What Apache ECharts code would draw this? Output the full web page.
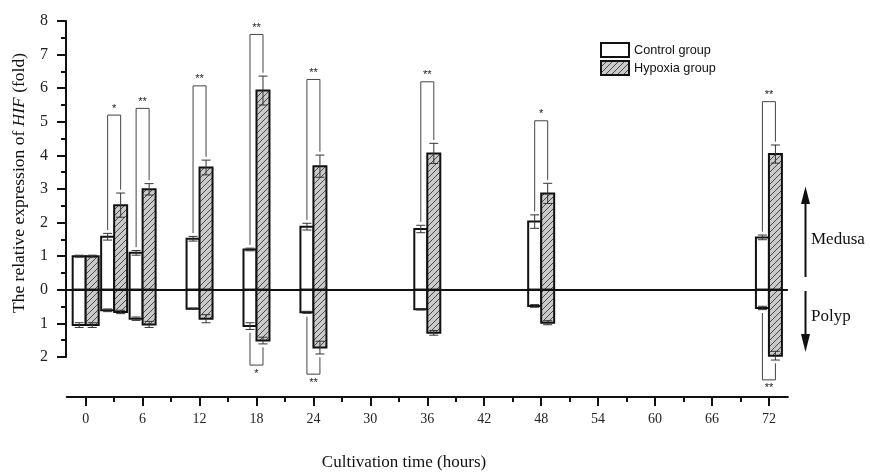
<!DOCTYPE html>
<html><head><meta charset="utf-8">
<script src="https://cdn.jsdelivr.net/npm/echarts@6/dist/echarts.min.js"></script>
<style>html,body{margin:0;padding:0;background:#fff}#c{width:870px;height:473px}</style>
</head><body><div id="c"></div>
<script>
// ---------- data ----------
const times = [0, 3, 6, 12, 18, 24, 36, 48, 72];
const controlMedusa    = [1.00, 1.58, 1.10, 1.52, 1.20, 1.88, 1.81, 2.03, 1.56];
const controlMedusaErr = [0.03, 0.10, 0.07, 0.07, 0.04, 0.10, 0.11, 0.20, 0.07];
const hypoxiaMedusa    = [1.00, 2.52, 2.99, 3.64, 5.93, 3.68, 4.06, 2.87, 4.04];
const hypoxiaMedusaErr = [0.03, 0.36, 0.17, 0.22, 0.43, 0.33, 0.30, 0.30, 0.27];
const controlPolyp     = [-1.05, -0.61, -0.86, -0.56, -1.08, -0.67, -0.58, -0.48, -0.54];
const controlPolypErr  = [0.07, 0.04, 0.05, 0.02, 0.10, 0.03, 0.02, 0.04, 0.05];
const hypoxiaPolyp     = [-1.05, -0.66, -1.03, -0.86, -1.51, -1.72, -1.28, -0.98, -1.96];
const hypoxiaPolypErr  = [0.07, 0.05, 0.09, 0.12, 0.10, 0.19, 0.07, 0.06, 0.13];

const sigTopTimes  = [3, 6, 12, 18, 24, 36, 48, 72];
const sigTopLevel  = [5.2, 5.4, 6.07, 7.6, 6.26, 6.19, 5.03, 5.6];
const sigTopMark   = ['*', '**', '**', '**', '**', '**', '*', '**'];
const sigBottomTimes = [18, 24, 72];
const sigBottomLevel = [-2.24, -2.51, -2.68];
const sigBottomMark  = ['*', '**', '**'];

const xMajorTicks = [0, 6, 12, 18, 24, 30, 36, 42, 48, 54, 60, 66, 72];
const xMinorTicks = [3, 9, 15, 21, 27, 33, 39, 45, 51, 57, 63, 69];
const seriesNames = ['Control group', 'Hypoxia group'];

// ---------- styles ----------
const SERIF = '"Liberation Serif", "Times New Roman", serif';
const SANS = '"Liberation Sans", Arial, sans-serif';
const BAR_W = 13;
function hatchCanvas() {
  const c = document.createElement('canvas'); c.width = 6; c.height = 6;
  const g = c.getContext('2d');
  g.fillStyle = '#cacaca'; g.fillRect(0, 0, 6, 6);
  g.strokeStyle = '#3a3a3a'; g.lineWidth = 0.9;
  g.beginPath();
  g.moveTo(0, 6); g.lineTo(6, 0);
  g.moveTo(-1, 1); g.lineTo(1, -1);
  g.moveTo(5, 7); g.lineTo(7, 5);
  g.stroke();
  return c;
}
const hatch = { image: hatchCanvas(), repeat: 'repeat' };

function idx(t) { return times.indexOf(t); }

function barSeries(name, med, medErr, pol, polErr, side, fill) {
  const data = times.map((t, i) => [t, med[i], medErr[i], pol[i], polErr[i]]);
  return {
    type: 'custom', name, xAxisIndex: 0, yAxisIndex: 0, data, z: 3,
    itemStyle: { color: fill, borderColor: '#111', borderWidth: 2 },
    renderItem(params, api) {
      const t = api.value(0);
      const base = api.coord([t, 0]);
      const x0 = side === 'left' ? base[0] - BAR_W : base[0];
      const cxm = x0 + BAR_W / 2;
      const kids = [];
      [[1, 2], [3, 4]].forEach(([vi, ei]) => {
        const v = api.value(vi);
        const p = api.coord([t, v]);
        kids.push({ type: 'rect', shape: { x: x0, y: Math.min(base[1], p[1]), width: BAR_W, height: Math.abs(p[1] - base[1]) },
          style: { fill: fill, stroke: '#111', lineWidth: 2 } });
      });
      [[1, 2], [3, 4]].forEach(([vi, ei]) => {
        const v = api.value(vi), e = api.value(ei);
        const a = api.coord([t, v + e])[1], b = api.coord([t, v - e])[1];
        const ls = { stroke: '#333', lineWidth: 1 };
        kids.push({ type: 'line', shape: { x1: cxm, y1: a, x2: cxm, y2: b }, style: ls });
        kids.push({ type: 'line', shape: { x1: cxm - 4.5, y1: a, x2: cxm + 4.5, y2: a }, style: ls });
        kids.push({ type: 'line', shape: { x1: cxm - 4.5, y1: b, x2: cxm + 4.5, y2: b }, style: ls });
      });
      return { type: 'group', children: kids };
    }
  };
}

const GAP = 0.1;
const bracketData = [];
sigTopTimes.forEach((t, k) => {
  const i = idx(t);
  bracketData.push([t, sigTopLevel[k], controlMedusa[i] + controlMedusaErr[i] + GAP, hypoxiaMedusa[i] + hypoxiaMedusaErr[i] + GAP, 1, sigTopMark[k]]);
});
sigBottomTimes.forEach((t, k) => {
  const i = idx(t);
  bracketData.push([t, sigBottomLevel[k], controlPolyp[i] - controlPolypErr[i] - GAP, hypoxiaPolyp[i] - hypoxiaPolypErr[i] - GAP, -1, sigBottomMark[k]]);
});

const bracketSeries = {
  type: 'custom', name: 'sig', xAxisIndex: 0, yAxisIndex: 0, data: bracketData, z: 2, silent: true,
  renderItem(params, api) {
    const t = api.value(0), lvl = api.value(1), l = api.value(2), r = api.value(3), dir = api.value(4);
    const mark = bracketData[params.dataIndex][5];
    const base = api.coord([t, 0]);
    const xl = base[0] - BAR_W / 2, xr = base[0] + BAR_W / 2;
    const yl = api.coord([t, l])[1], yr = api.coord([t, r])[1], yt = api.coord([t, lvl])[1];
    return { type: 'group', children: [
      { type: 'polyline', shape: { points: [[xl, yl], [xl, yt], [xr, yt], [xr, yr]] }, style: { stroke: '#444', lineWidth: 1, fill: null } },
      { type: 'text', x: base[0], y: dir > 0 ? yt - 1 : yt + 3,
        style: { text: mark, font: '11px ' + SANS, fill: '#222', align: 'center', verticalAlign: dir > 0 ? 'bottom' : 'top' } }
    ] };
  }
};

const zeroSeries = {
  type: 'line', name: 'zero', xAxisIndex: 0, yAxisIndex: 0, data: [], z: 10, silent: true,
  markLine: { silent: true, symbol: ['none', 'none'], label: { show: false },
    lineStyle: { color: '#111', width: 2, type: 'solid' }, data: [{ yAxis: 0 }] }
};

const chart = echarts.init(document.getElementById('c'), null, { renderer: 'canvas' });
chart.setOption({
  animation: false,
  backgroundColor: '#fff',
  grid: [
    { left: 66.7, top: 21, width: 721.2, height: 376 },
    { left: 66, top: 21, width: 721.2, height: 336 }
  ],
  xAxis: [
    { gridIndex: 0, type: 'value', min: -2, max: 74, position: 'bottom',
      axisLine: { show: true, onZero: false, lineStyle: { color: '#111', width: 2 } },
      axisTick: { show: true, customValues: xMajorTicks, length: 9, lineStyle: { color: '#111', width: 2 } },
      axisLabel: { show: true, customValues: xMajorTicks, margin: 15, fontFamily: SERIF, fontSize: 14, color: '#222' },
      splitLine: { show: false } },
    { gridIndex: 0, type: 'value', min: -2, max: 74, position: 'bottom', offset: 0,
      axisLine: { show: false, onZero: false },
      axisTick: { show: true, customValues: xMinorTicks, length: 5, lineStyle: { color: '#111', width: 2 } },
      axisLabel: { show: false }, splitLine: { show: false } },
    { gridIndex: 1, type: 'value', min: -2, max: 74, show: false }
  ],
  yAxis: [
    { gridIndex: 0, type: 'value', min: -3.19, max: 8, show: false, splitLine: { show: false } },
    { gridIndex: 1, type: 'value', min: -2, max: 8, interval: 1,
      axisLine: { show: true, onZero: false, lineStyle: { color: '#111', width: 2 } },
      axisTick: { show: true, length: 9, lineStyle: { color: '#111', width: 2 } },
      minorTick: { show: true, splitNumber: 2, length: 5, lineStyle: { color: '#111', width: 2 } },
      axisLabel: { margin: 18, fontFamily: SERIF, fontSize: 16, color: '#222', formatter: v => String(Math.abs(v)) },
      splitLine: { show: false }, minorSplitLine: { show: false } }
  ],
  legend: {
    orient: 'vertical', left: 600, top: 42, itemWidth: 28, itemHeight: 14, itemGap: 2, padding: 0,
    icon: 'rect', selectedMode: false,
    textStyle: { fontFamily: SANS, fontSize: 12.7, color: '#111' },
    data: [
      { name: seriesNames[0], itemStyle: { color: '#fff', borderColor: '#111', borderWidth: 2 } },
      { name: seriesNames[1], itemStyle: { color: hatch, borderColor: '#111', borderWidth: 2 } }
    ]
  },
  graphic: [
    { type: 'text', x: 19, y: 183, rotation: Math.PI / 2,
      style: { text: '{n|The relative expression of }{i|HIF}{n| (fold)}', align: 'center', verticalAlign: 'middle',
        rich: { n: { fontFamily: SERIF, fontSize: 17.5, fill: '#111', color: '#111' }, i: { fontFamily: SERIF, fontSize: 17.5, fontStyle: 'italic', fill: '#111', color: '#111' } } } },
    { type: 'text', x: 404, y: 463, style: { text: 'Cultivation time (hours)', font: '17px ' + SERIF, fill: '#111', align: 'center', verticalAlign: 'middle' } },
    { type: 'line', shape: { x1: 805.5, y1: 277, x2: 805.5, y2: 200 }, style: { stroke: '#111', lineWidth: 2 } },
    { type: 'polygon', shape: { points: [[805.5, 186.5], [801, 204], [810, 204]] }, style: { fill: '#111' } },
    { type: 'line', shape: { x1: 805.5, y1: 291, x2: 805.5, y2: 338 }, style: { stroke: '#111', lineWidth: 2 } },
    { type: 'polygon', shape: { points: [[805.5, 352], [801, 334], [810, 334]] }, style: { fill: '#111' } },
    { type: 'text', x: 811, y: 240, style: { text: 'Medusa', font: '17px ' + SERIF, fill: '#111', align: 'left', verticalAlign: 'middle' } },
    { type: 'text', x: 811, y: 317, style: { text: 'Polyp', font: '17px ' + SERIF, fill: '#111', align: 'left', verticalAlign: 'middle' } }
  ],
  series: [
    bracketSeries,
    barSeries(seriesNames[0], controlMedusa, controlMedusaErr, controlPolyp, controlPolypErr, 'left', '#fff'),
    barSeries(seriesNames[1], hypoxiaMedusa, hypoxiaMedusaErr, hypoxiaPolyp, hypoxiaPolypErr, 'right', hatch),
    zeroSeries
  ]
});
</script>
</body></html>
